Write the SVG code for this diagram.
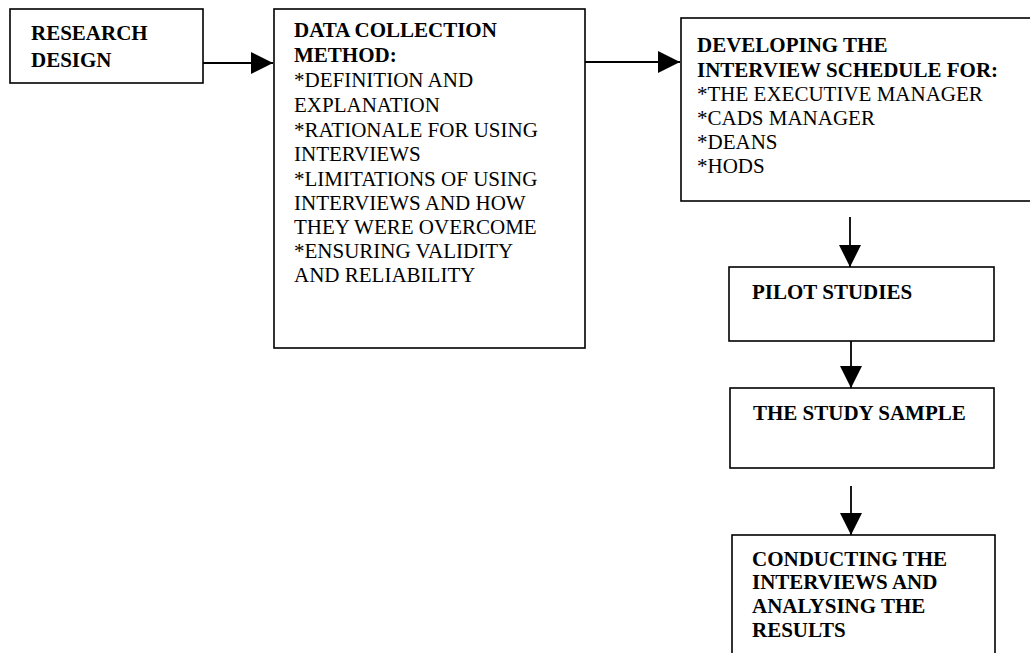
<svg xmlns="http://www.w3.org/2000/svg" width="1030" height="653" viewBox="0 0 1030 653">
  <style>
    .box { fill: #ffffff; stroke: #000000; stroke-width: 1.6; }
    .t { font-family: "Liberation Serif", "Times New Roman", serif; font-size: 21px; fill: #000000; }
    .b { font-weight: bold; }
    .conn { stroke: #000000; stroke-width: 1.8; fill: none; marker-end: url(#arrow); }
  </style>
  <defs>
    <marker id="arrow" markerUnits="userSpaceOnUse" markerWidth="22" markerHeight="22" viewBox="0 0 20 20" refX="20" refY="10" orient="auto">
      <path d="M0,0 L20,10 L0,20 Z" fill="#000000"/>
    </marker>
  </defs>
  <rect width="1030" height="653" fill="#ffffff"/>

  <g id="connectors">
    <line class="conn" x1="203" y1="63" x2="273" y2="63"/>
    <line class="conn" x1="585" y1="62" x2="680" y2="62"/>
    <line class="conn" x1="850" y1="217" x2="850" y2="267"/>
    <line class="conn" x1="851" y1="341" x2="851" y2="388"/>
    <line class="conn" x1="851" y1="486" x2="851" y2="535"/>
  </g>

  <g id="node-research-design">
    <rect class="box" x="10" y="9" width="193" height="74"/>
    <text class="t b" x="31" y="40">RESEARCH</text>
    <text class="t b" x="31" y="67">DESIGN</text>
  </g>

  <g id="node-data-collection">
    <rect class="box" x="274" y="9" width="311" height="339"/>
    <text class="t b" x="294" y="37">DATA COLLECTION</text>
    <text class="t b" x="294" y="62">METHOD:</text>
    <text class="t" x="294" y="87">*DEFINITION AND</text>
    <text class="t" x="294" y="112">EXPLANATION</text>
    <text class="t" x="294" y="137">*RATIONALE FOR USING</text>
    <text class="t" x="294" y="161">INTERVIEWS</text>
    <text class="t" x="294" y="186">*LIMITATIONS OF USING</text>
    <text class="t" x="294" y="210">INTERVIEWS AND HOW</text>
    <text class="t" x="294" y="234">THEY WERE OVERCOME</text>
    <text class="t" x="294" y="258">*ENSURING VALIDITY</text>
    <text class="t" x="294" y="282">AND RELIABILITY</text>
  </g>

  <g id="node-interview-schedule">
    <rect class="box" x="681" y="18" width="360" height="183"/>
    <text class="t b" x="697" y="52">DEVELOPING THE</text>
    <text class="t b" x="697" y="77">INTERVIEW SCHEDULE FOR:</text>
    <text class="t" x="697" y="101">*THE EXECUTIVE MANAGER</text>
    <text class="t" x="697" y="125">*CADS MANAGER</text>
    <text class="t" x="697" y="149">*DEANS</text>
    <text class="t" x="697" y="173">*HODS</text>
  </g>

  <g id="node-pilot-studies">
    <rect class="box" x="729" y="267" width="265" height="74"/>
    <text class="t b" x="752" y="299">PILOT STUDIES</text>
  </g>

  <g id="node-study-sample">
    <rect class="box" x="730" y="388" width="264" height="80"/>
    <text class="t b" x="753" y="420">THE STUDY SAMPLE</text>
  </g>

  <g id="node-conducting">
    <rect class="box" x="732" y="535" width="263" height="130"/>
    <text class="t b" x="752" y="566">CONDUCTING THE</text>
    <text class="t b" x="752" y="589">INTERVIEWS AND</text>
    <text class="t b" x="752" y="613">ANALYSING THE</text>
    <text class="t b" x="752" y="637">RESULTS</text>
  </g>
</svg>
